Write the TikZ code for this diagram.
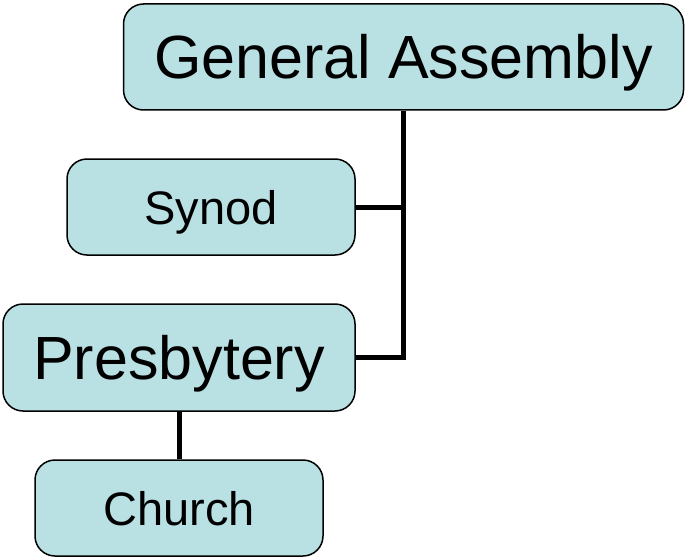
\documentclass[tikz,border=0pt]{standalone}
\usepackage{fontspec}
\setmainfont{Liberation Sans}
\definecolor{boxfill}{HTML}{B9E0E3}
\begin{document}
\begin{tikzpicture}[x=1pt,y=-1pt,
  orgbox/.style={draw=black, line width=1.5pt, fill=boxfill, rounded corners=20pt,
    rectangle, inner sep=0pt, text depth=0pt},
  big/.style={font=\fontsize{61}{61}\selectfont, text height=43.5pt},
  small/.style={font=\fontsize{47}{47}\selectfont, text height=34pt},
  conn/.style={draw=black, line width=5pt}]
\useasboundingbox (0,0) rectangle (685,559);
\node[orgbox,big,minimum width=560pt,minimum height=106pt] (ga) at (403.5,57) {General Assembly};
\node[orgbox,small,minimum width=288pt,minimum height=96pt] (syn) at (211,207) {Synod};
\node[orgbox,big,minimum width=352pt,minimum height=107pt] (pres) at (179,357.5) {Presbytery};
\node[orgbox,small,minimum width=288pt,minimum height=96pt] (church) at (179,508) {Church};
\draw[conn] (ga.south) |- (pres.east);
\draw[conn] (syn.east) -- (syn.east -| ga.south);
\draw[conn] (pres.south) -- (church.north);
\end{tikzpicture}
\end{document}
